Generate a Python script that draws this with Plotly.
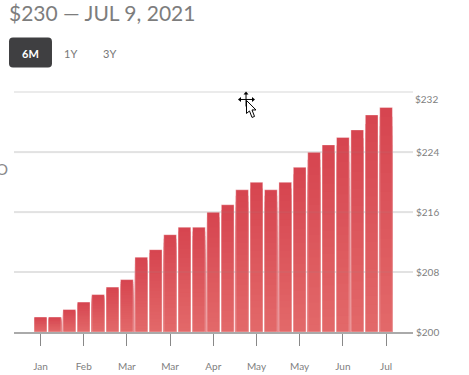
import plotly.graph_objects as go

positions = list(range(25))
values = [202,202,203,204,205,206,207,210,211,213,214,214,216,217,219,220,219,220,222,224,225,226,227,229,230]
tick_positions = [0,3,6,9,12,15,18,21,24]
tick_labels = ["Jan","Feb","Mar","Mar","Apr","May","May","Jun","Jul"]
y_ticks = [200,208,216,224,232]
y_labels = ["$200","$208","$216","$224",""]
BASE = 200
Y_MAX = 233
W, H = 469, 375
L, R, T, B = 14, 413, 84.5, 332
TOP = (214, 69, 80)
BOTTOM = (227, 106, 106)
STEPS = 24

fig = go.Figure()
for k in range(STEPS, 0, -1):
    f = k / STEPS
    c = [round(BOTTOM[i] + (TOP[i] - BOTTOM[i]) * f) for i in range(3)]
    fig.add_bar(x=positions, y=[(v - BASE) * f for v in values], base=BASE,
                marker=dict(color=f"rgb({c[0]},{c[1]},{c[2]})", line=dict(width=0)),
                width=0.88, hoverinfo="skip", showlegend=False)
fig.add_bar(x=positions, y=[v - BASE for v in values], base=BASE,
            marker=dict(color="rgba(0,0,0,0)", line=dict(width=1, color="rgba(255,255,255,0.35)")),
            width=0.88, hoverinfo="skip", showlegend=False)

def px(x): return (x - L) / (R - L)
def py(y): return (B - y) / (B - T)
def path(pts, close=True):
    s = "M " + " L ".join(f"{px(x):.4f},{py(y):.4f}" for x, y in pts)
    return s + (" Z" if close else "")

def rounded(x0, y0, x1, y1, r):
    return (f"M {px(x0+r):.4f},{py(y0):.4f} L {px(x1-r):.4f},{py(y0):.4f} Q {px(x1):.4f},{py(y0):.4f} {px(x1):.4f},{py(y0+r):.4f} "
            f"L {px(x1):.4f},{py(y1-r):.4f} Q {px(x1):.4f},{py(y1):.4f} {px(x1-r):.4f},{py(y1):.4f} "
            f"L {px(x0+r):.4f},{py(y1):.4f} Q {px(x0):.4f},{py(y1):.4f} {px(x0):.4f},{py(y1-r):.4f} "
            f"L {px(x0):.4f},{py(y0+r):.4f} Q {px(x0):.4f},{py(y0):.4f} {px(x0+r):.4f},{py(y0):.4f} Z")

def ps(d, fill="black", lc="black", w=1):
    return dict(type="path", xref="paper", yref="paper", path=d, fillcolor=fill, line=dict(color=lc, width=w), layer="above")

cursor = [
    ps(path([(246, 93), (246, 106)], False), w=1),
    ps(path([(239, 99), (253, 99)], False), w=1),
    ps(path([(246, 91), (243.5, 94), (248.5, 94)]), w=0),
    ps(path([(238, 99), (241, 96.5), (241, 101.5)]), w=0),
    ps(path([(255, 99), (252, 96.5), (252, 101.5)]), w=0),
    ps(path([(246.5, 100), (246.5, 113), (249.5, 110.5), (252, 117), (254.5, 116), (252, 109.5), (256, 109.5)]), fill="white", w=1),
]
grid_over = [dict(type="line", xref="x domain", yref="y", x0=0, x1=1, y0=v, y1=v,
                  line=dict(color="rgba(150,150,150,0.10)", width=2), layer="above") for v in y_ticks[1:4]]

tf = dict(size=10, color="#808080", family="Lato, sans-serif")
def note(text, x, y, size, color, anchor="center"):
    return dict(text=text, xref="paper", yref="paper", x=px(x), y=py(y), xanchor=anchor, yanchor="middle",
                showarrow=False, font=dict(size=size, color=color, family="Lato, sans-serif"))

fig.update_layout(
    width=W, height=H, barmode="overlay", plot_bgcolor="white", paper_bgcolor="white",
    margin=dict(l=L, r=W - R, t=T, b=H - B, autoexpand=False), showlegend=False,
    font=dict(family="Lato, sans-serif", color="#777"),
    xaxis=dict(range=[-1.84, 25.87], tickmode="array", tickvals=tick_positions, ticktext=tick_labels,
               ticks="outside", ticklen=12, tickwidth=1, tickcolor="#888", showgrid=False,
               showline=True, linecolor="#aaa", linewidth=2, zeroline=False, automargin=False,
               ticklabelstandoff=12, tickfont=tf),
    yaxis=dict(range=[BASE, Y_MAX], side="right", tickmode="array", tickvals=y_ticks, ticktext=y_labels,
               showgrid=True, gridcolor="#ebebeb", gridwidth=2, zeroline=False, ticks="", automargin=False,
               ticklabelstandoff=2, tickfont=tf),
    annotations=[
        dict(text="$232", xref="x domain", yref="y", x=1, y=232, xanchor="left", yshift=-7, xshift=0,
             showarrow=False, font=tf),
        note("$230 — JUL 9, 2021", 7, 12, 21, "#7d7d7d", "left"),
        note("<b>6M</b>", 30.5, 53, 11, "white"),
        note("1Y", 70, 53, 11, "#777"),
        note("3Y", 109.5, 53, 11, "#777"),
        note("O", -6, 169, 15, "#888", "left"),
    ],
    shapes=[dict(type="path", xref="paper", yref="paper", path=rounded(9, 37, 52, 67, 4),
                 fillcolor="#3f3f41", line=dict(width=0), layer="above")] + grid_over + cursor,
)
fig.write_html("out.html", config={"displayModeBar": False}, post_script="document.body.style.margin='0';")
